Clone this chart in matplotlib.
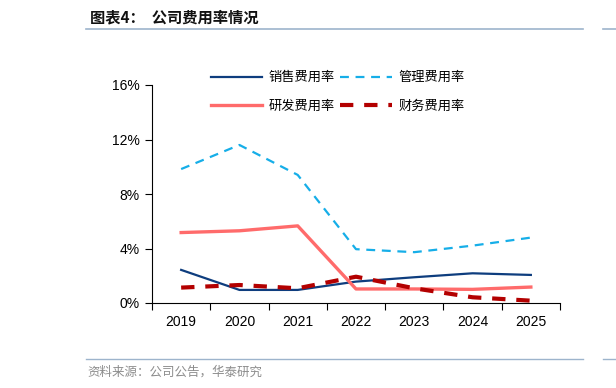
import matplotlib
matplotlib.use("Agg")
import matplotlib.pyplot as plt
from matplotlib.lines import Line2D
from matplotlib.ticker import FuncFormatter, FixedLocator

# data (expense ratios, %)
years = ["2019", "2020", "2021", "2022", "2023", "2024", "2025"]
sales = [2.43, 0.96, 0.96, 1.57, 1.89, 2.18, 2.06]
admin = [9.83, 11.6, 9.4, 3.95, 3.73, 4.21, 4.8]
rnd = [5.17, 5.30, 5.66, 1.03, 1.03, 1.00, 1.17]
fin = [1.13, 1.32, 1.08, 1.93, 1.08, 0.42, 0.17]
labels = ["销售费用率", "管理费用率", "研发费用率", "财务费用率"]

CJK = ["Noto Sans CJK SC", "DejaVu Sans"]
LAT = ["Liberation Sans", "DejaVu Sans"]
RULE = "#9db4cc"

fig = plt.figure(figsize=(6.16, 3.88), dpi=100)

# title block and rules
fig.text(90 / 616, 1 - 17 / 388, "图表4：  公司费用率情况", family=CJK, fontsize=11,
         fontweight="bold", va="center", ha="left", color="#111111")
fig.add_artist(Line2D([86 / 616, 583 / 616], [1 - 29 / 388] * 2, color=RULE, lw=1.2))
fig.add_artist(Line2D([603 / 616, 1.0], [1 - 29 / 388] * 2, color=RULE, lw=1.2))
fig.add_artist(Line2D([86 / 616, 583 / 616], [1 - 359 / 388] * 2, color=RULE, lw=1.0))
fig.add_artist(Line2D([603 / 616, 1.0], [1 - 359 / 388] * 2, color=RULE, lw=1.0))
fig.text(87 / 616, 1 - 372 / 388, "资料来源：公司公告，华泰研究", family=CJK, fontsize=9,
         va="center", ha="left", color="#8c8c8c")

ax = fig.add_axes([152 / 616, 1 - 303 / 388, 408 / 616, 218 / 388])
x = list(range(len(years)))
h1, = ax.plot(x, sales, color="#0e3d7e", lw=1.6)
h2, = ax.plot(x, admin, color="#16aee8", lw=1.6, dashes=(4, 3))
h3, = ax.plot(x, rnd, color="#ff6b6b", lw=2.4)
h4, = ax.plot(x, fin, color="#b30000", lw=3.0, dashes=(3.2, 2.6))

ax.set_xlim(-0.5, len(years) - 0.5)
ax.set_ylim(0, 16)
ax.yaxis.set_major_locator(FixedLocator([0, 4, 8, 12, 16]))
ax.yaxis.set_major_formatter(FuncFormatter(lambda v, p: f"{v:.0f}%"))
ax.set_xticks(x)
ax.set_xticklabels(years)
ax.set_xticks([i - 0.5 for i in range(len(years) + 1)], minor=True)
ax.tick_params(axis="x", which="major", length=0, pad=9)
ax.tick_params(axis="x", which="minor", length=5, width=0.8)
ax.tick_params(axis="y", length=5, width=0.8, pad=4)
for lab in ax.get_xticklabels() + ax.get_yticklabels():
    lab.set_family(LAT)
    lab.set_fontsize(10)
for s in ["top", "right"]:
    ax.spines[s].set_visible(False)
for s in ["left", "bottom"]:
    ax.spines[s].set_linewidth(0.8)

# row-wise order: sales, admin / rnd, fin
leg = ax.legend([h1, h3, h2, h4], [labels[0], labels[2], labels[1], labels[3]],
                ncol=2, loc="upper left",
                bbox_to_anchor=(0.115, 1.118), frameon=False, handlelength=3.9,
                handletextpad=0.5, columnspacing=0.4, labelspacing=1.15,
                prop={"family": CJK, "size": 9.5})

fig.savefig("out.png", dpi=100)
